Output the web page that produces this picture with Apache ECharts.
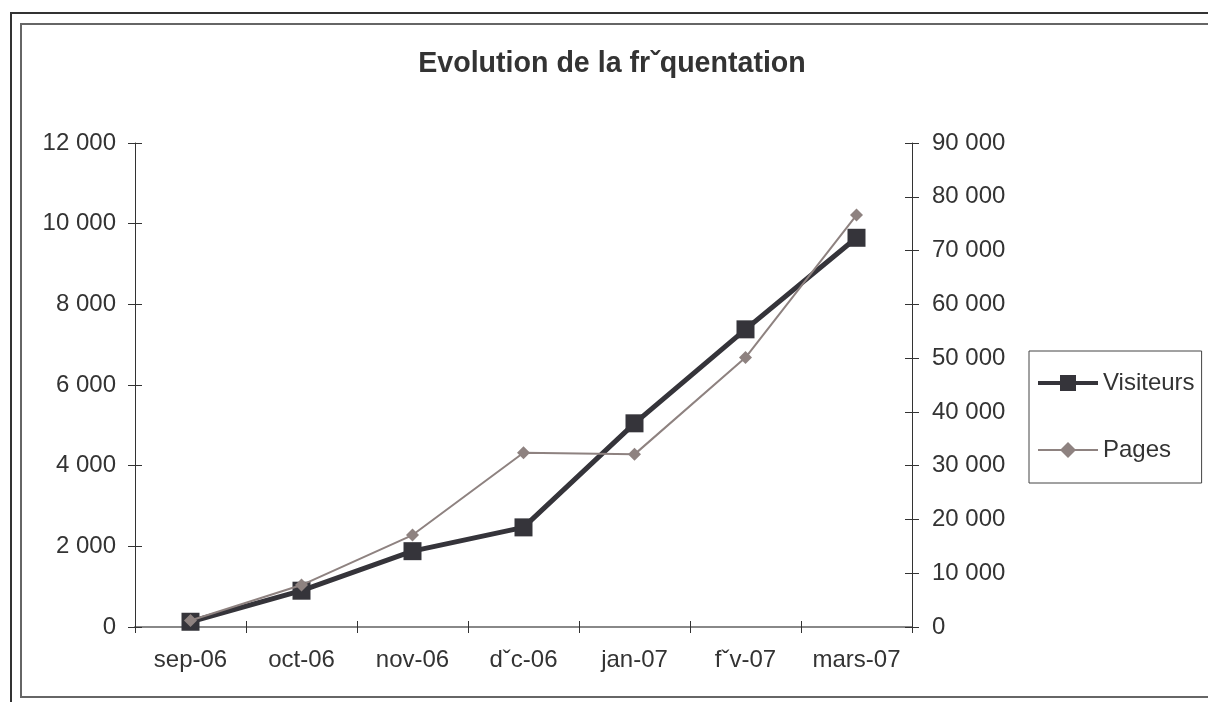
<!DOCTYPE html>
<html>
<head>
<meta charset="utf-8">
<script src="https://cdn.jsdelivr.net/npm/echarts@6/dist/echarts.min.js"></script>
<style>
html,body{margin:0;padding:0;background:#fff;}
#chart{width:1208px;height:702px;}
</style>
</head>
<body>
<div id="chart"></div>
<script>
const titleText = 'Evolution de la frˇquentation';
const categories = ['sep-06', 'oct-06', 'nov-06', 'dˇc-06', 'jan-07', 'fˇv-07', 'mars-07'];
const visiteurs = [130, 900, 1880, 2470, 5050, 7380, 9650];
const pages = [1200, 7800, 17100, 32400, 32100, 50100, 76600];
const leftAxis = {min: 0, max: 12000, interval: 2000};
const rightAxis = {min: 0, max: 90000, interval: 10000};

const FONT = "'Liberation Sans', Arial, Helvetica, sans-serif";
const fmt = v => String(v).replace(/\B(?=(\d{3})+(?!\d))/g, ' ');

const chart = echarts.init(document.getElementById('chart'), null, {renderer: 'canvas'});
const tickStyle = {color: '#333', width: 1};

chart.setOption({
  animation: false,
  backgroundColor: '#fff',
  textStyle: {fontFamily: FONT},
  graphic: [
    {type: 'rect', shape: {x: 11, y: 13, width: 1300, height: 800}, style: {fill: 'none', stroke: '#333', lineWidth: 2}, silent: true},
    {type: 'rect', shape: {x: 21, y: 24, width: 1300, height: 673}, style: {fill: 'none', stroke: '#666', lineWidth: 2}, silent: true}
  ],
  title: {
    text: titleText,
    left: 607, top: 45, textAlign: 'center',
    textStyle: {fontFamily: FONT, fontSize: 28.6, fontWeight: 'bold', color: '#333'}
  },
  legend: {
    orient: 'vertical',
    left: 1029, top: 351,
    padding: [20, 7, 21, 7],
    itemGap: 43,
    itemWidth: 60, itemHeight: 20,
    borderColor: '#444', borderWidth: 1,
    textStyle: {fontFamily: FONT, fontSize: 24, color: '#333'},
    data: [
      {name: 'Visiteurs', lineStyle: {width: 4}},
      {name: 'Pages', lineStyle: {width: 2}}
    ]
  },
  grid: {left: 135, right: 296, top: 143, bottom: 75, containLabel: false},
  xAxis: [
    {
      type: 'category', data: categories, position: 'bottom', boundaryGap: true,
      axisLine: {lineStyle: {color: '#888', width: 2}},
      axisTick: {show: true, inside: false, length: 6, lineStyle: tickStyle},
      axisLabel: {interval: 0, margin: 21, fontSize: 24, color: '#333', fontFamily: FONT},
      splitLine: {show: false}
    },
    {
      type: 'category', data: categories, position: 'bottom', boundaryGap: true,
      axisLine: {show: false},
      axisTick: {show: true, inside: true, length: 6, lineStyle: tickStyle},
      axisLabel: {show: false},
      splitLine: {show: false}
    }
  ],
  yAxis: [
    {
      type: 'value', position: 'left', min: leftAxis.min, max: leftAxis.max, interval: leftAxis.interval,
      axisLine: {show: true, lineStyle: {color: '#333', width: 1}},
      axisTick: {show: true, inside: false, length: 7, lineStyle: tickStyle},
      axisLabel: {margin: 19, fontSize: 24, color: '#333', fontFamily: FONT, formatter: fmt},
      splitLine: {show: false}
    },
    {
      type: 'value', position: 'right', min: rightAxis.min, max: rightAxis.max, interval: rightAxis.interval,
      axisLine: {show: true, lineStyle: {color: '#333', width: 1}},
      axisTick: {show: true, inside: false, length: 7, lineStyle: tickStyle},
      axisLabel: {margin: 20, fontSize: 24, color: '#333', fontFamily: FONT, formatter: fmt},
      splitLine: {show: false}
    },
    {
      type: 'value', position: 'left', min: leftAxis.min, max: leftAxis.max, interval: leftAxis.interval,
      axisLine: {show: false},
      axisTick: {show: true, inside: true, length: 7, lineStyle: tickStyle},
      axisLabel: {show: false}, splitLine: {show: false}
    },
    {
      type: 'value', position: 'right', min: rightAxis.min, max: rightAxis.max, interval: rightAxis.interval,
      axisLine: {show: false},
      axisTick: {show: true, inside: true, length: 7, lineStyle: tickStyle},
      axisLabel: {show: false}, splitLine: {show: false}
    }
  ],
  series: [
    {
      name: 'Visiteurs', type: 'line', xAxisIndex: 0, yAxisIndex: 0,
      data: visiteurs,
      symbol: 'rect', symbolSize: 18,
      lineStyle: {color: '#35343a', width: 5},
      itemStyle: {color: '#35343a'},
      z: 3
    },
    {
      name: 'Pages', type: 'line', xAxisIndex: 0, yAxisIndex: 1,
      data: pages,
      symbol: 'diamond', symbolSize: 13,
      lineStyle: {color: '#8e8280', width: 2},
      itemStyle: {color: '#8e8280'},
      z: 4
    }
  ]
});
</script>
</body>
</html>
